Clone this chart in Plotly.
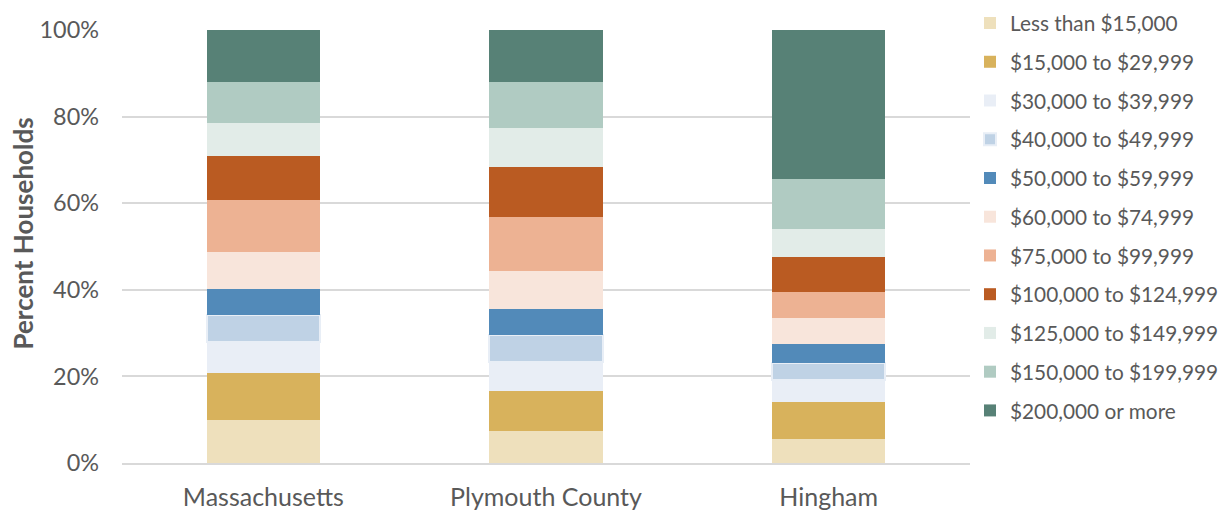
import plotly.graph_objects as go

regions = ["Massachusetts", "Plymouth County", "Hingham"]
brackets = ["Less than $15,000", "$15,000 to $29,999", "$30,000 to $39,999",
            "$40,000 to $49,999", "$50,000 to $59,999", "$60,000 to $74,999",
            "$75,000 to $99,999", "$100,000 to $124,999", "$125,000 to $149,999",
            "$150,000 to $199,999", "$200,000 or more"]
massachusetts = [10.0, 10.9, 7.1, 6.1, 6.1, 8.6, 12.0, 10.1, 7.6, 9.5, 12.0]
plymouth = [7.3, 9.4, 6.7, 6.2, 6.0, 8.8, 12.4, 11.6, 8.9, 10.8, 11.9]
hingham = [5.6, 8.5, 5.1, 3.9, 4.4, 6.0, 5.9, 8.2, 6.5, 11.5, 34.4]
colors = ["#EEE0BC", "#D8B25C", "#E9EEF6", "#BFD2E5", "#528AB9", "#F8E5DB",
          "#EDB293", "#BA5B22", "#E2ECE8", "#B0CBC2", "#578176"]
yticks = [0, 20, 40, 60, 80, 100]
ytick_labels = ["0%", "20%", "40%", "60%", "80%", "100%"]

FONT = "Lato"
fig = go.Figure()
for i, b in enumerate(brackets):
    vals = [massachusetts[i], plymouth[i], hingham[i]]
    line = dict(width=2, color="#E8EEF6") if i == 3 else dict(width=0)
    fig.add_trace(go.Bar(x=regions, y=vals, name=b, legendgroup=f"g{i}",
                         marker=dict(color=colors[i], line=line)))

fig.update_layout(
    barmode="stack", bargap=0.6,
    width=1227, height=510,
    margin=dict(l=122, r=257, t=30, b=47),
    plot_bgcolor="white", paper_bgcolor="white",
    font=dict(family=FONT, color="#595959"),
    legend=dict(traceorder="grouped", xref="container", yref="container",
                x=970 / 1227, xanchor="left", y=1 - 3 / 510, yanchor="top",
                font=dict(size=20.8, color="#595959", family=FONT),
                itemwidth=30, tracegroupgap=8.7, maxheight=1.0),
    showlegend=True,
    annotations=[dict(text="<b>Percent Households</b>", textangle=-90,
                      xref="paper", yref="paper", x=(22 - 122) / 848, y=(463 - 233.5) / 433,
                      xanchor="center", yanchor="middle", showarrow=False,
                      font=dict(size=26, color="#595959", family=FONT))],
)
fig.update_yaxes(range=[0, 100], tickvals=yticks, ticktext=ytick_labels,
                 showgrid=True, gridcolor="#D9D9D9", gridwidth=1.5,
                 zeroline=False, tickfont=dict(size=23.4, color="#595959"),
                 ticks="", ticklen=0, ticklabelstandoff=22, automargin=False)
fig.update_xaxes(showline=True, linecolor="#D9D9D9", linewidth=1.5, automargin=False,
                 tickfont=dict(size=25, color="#595959"), ticks="", ticklabelstandoff=11)
fig.write_html("out.html")
